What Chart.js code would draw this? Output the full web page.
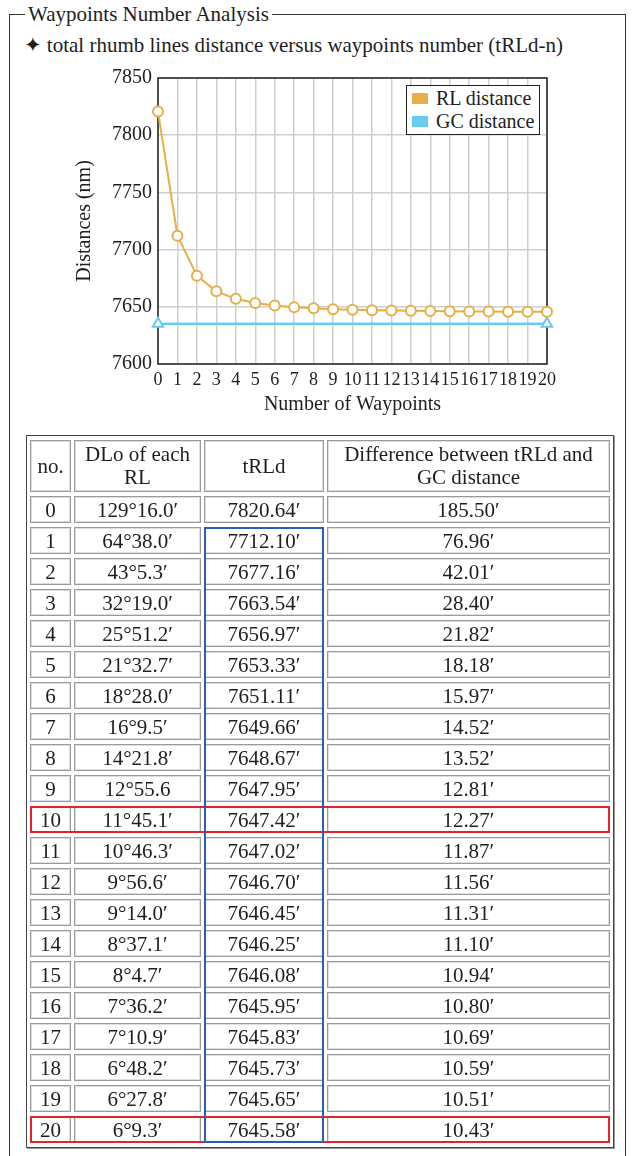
<!DOCTYPE html>
<html><head><meta charset="utf-8">
<script src="https://cdn.jsdelivr.net/npm/chart.js@4.4.0/dist/chart.umd.min.js"></script>
<style>
html,body{margin:0;padding:0;background:#fff;}
body{width:632px;height:1156px;position:relative;overflow:hidden;font-family:"Liberation Serif","Times New Roman",serif;color:#1e1e1e;}
#frame{position:absolute;left:9px;top:14px;width:617px;height:1300px;border:1px solid #333;border-bottom:none;box-sizing:border-box;}
#ftitle{position:absolute;left:25px;top:2px;padding:0 3px;background:#fff;font-size:21px;line-height:25px;white-space:nowrap;}
#subtitle{position:absolute;left:24px;top:33px;font-size:21px;line-height:25px;white-space:nowrap;}
#subtitle .star{font-family:"DejaVu Sans";font-size:21px;line-height:20px;}
#chartBox{position:absolute;left:0;top:60px;width:632px;height:380px;}
#legend{position:absolute;border:1.5px solid #222;background:#fff;padding:1px 5px 1px 5px;font-size:20px;line-height:23px;white-space:nowrap;}
#legend .sw{display:inline-block;width:16px;height:11px;margin-right:8px;vertical-align:1px;}
table{position:absolute;left:26px;top:435px;border-collapse:separate;border-spacing:3px 4px;border:1px solid #444;box-shadow:1px 1px 0 #999;table-layout:fixed;}
td,th{border:1px solid #9a9a9a;box-shadow:inset 0 0 0 1px #dedede;padding:0;text-align:center;font-weight:normal;font-size:21px;height:27px;box-sizing:border-box;line-height:22px;color:#1e1e1e;}
th{height:52px;line-height:23px;}
.ov{position:absolute;box-sizing:border-box;pointer-events:none;}
</style>
</head><body>
<div id="frame"></div>
<div id="ftitle">Waypoints Number Analysis</div>
<div id="subtitle"><span class="star">✦</span> total rhumb lines distance versus waypoints number (tRLd-n)</div>
<div id="chartBox"><canvas id="c" width="632" height="380"></canvas><div id="legend"></div></div>
<table id="tbl">
<colgroup><col style="width:41px"><col style="width:127px"><col style="width:120px"><col style="width:283px"></colgroup>
<thead><tr id="hdr"></tr></thead><tbody id="tb"></tbody></table>
<script>
// ---- data ----
const waypoints = [0,1,2,3,4,5,6,7,8,9,10,11,12,13,14,15,16,17,18,19,20];
const tRLd = [7820.64,7712.10,7677.16,7663.54,7656.97,7653.33,7651.11,7649.66,7648.67,7647.95,7647.42,7647.02,7646.70,7646.45,7646.25,7646.08,7645.95,7645.83,7645.73,7645.65,7645.58];
const dloEach = ['129°16.0′','64°38.0′','43°5.3′','32°19.0′','25°51.2′','21°32.7′','18°28.0′','16°9.5′','14°21.8′','12°55.6','11°45.1′','10°46.3′','9°56.6′','9°14.0′','8°37.1′','8°4.7′','7°36.2′','7°10.9′','6°48.2′','6°27.8′','6°9.3′'];
const diffGC = [185.50,76.96,42.01,28.40,21.82,18.18,15.97,14.52,13.52,12.81,12.27,11.87,11.56,11.31,11.10,10.94,10.80,10.69,10.59,10.51,10.43];
const gcDistance = 7635.14;
const gcEnds = [0, 20];
const yTicks = [7600,7650,7700,7750,7800,7850];
const xTicks = waypoints;
const headers = ['no.','DLo of each RL','tRLd','Difference between tRLd and GC distance'];
const highlightRows = [10, 20];
const seriesNames = ['RL distance','GC distance'];
const seriesColors = ['#E8AE48','#6ACBF2'];

// ---- table ----
const hdr = document.getElementById('hdr');
headers.forEach(h => { const th = document.createElement('th'); th.textContent = h; hdr.appendChild(th); });
const tb = document.getElementById('tb');
waypoints.forEach((n,i) => {
  const tr = document.createElement('tr');
  [String(n), dloEach[i], tRLd[i].toFixed(2)+'′', diffGC[i].toFixed(2)+'′'].forEach(t => {
    const td = document.createElement('td'); td.textContent = t; tr.appendChild(td);
  });
  tb.appendChild(tr);
});
function addOverlay(r1, r2, color){
  const d = document.createElement('div'); d.className = 'ov';
  d.style.left = r1.left+'px'; d.style.top = r1.top+'px';
  d.style.width = (r2.right-r1.left)+'px'; d.style.height = (r2.bottom-r1.top)+'px';
  d.style.border = '2px solid '+color;
  document.body.appendChild(d);
}
const rows = tb.querySelectorAll('tr');
highlightRows.forEach(r => {
  const cells = rows[r].children;
  addOverlay(cells[0].getBoundingClientRect(), cells[cells.length-1].getBoundingClientRect(), '#E8222B');
});
addOverlay(rows[1].children[2].getBoundingClientRect(), rows[20].children[2].getBoundingClientRect(), '#2C5EAE');

// ---- chart ----
const legendEl = document.getElementById('legend');
seriesNames.forEach((s,i) => {
  const d = document.createElement('div');
  d.innerHTML = '<span class="sw" style="background:'+seriesColors[i]+'"></span>'+s;
  legendEl.appendChild(d);
});
const frame = {
  id:'frame',
  beforeDatasetsDraw(chart){
    const {ctx, chartArea:a} = chart;
    ctx.save(); ctx.strokeStyle = '#222'; ctx.lineWidth = 1.5;
    ctx.strokeRect(a.left, a.top, a.right-a.left, a.bottom-a.top);
    ctx.restore();
  },
  afterRender(chart){
    const a = chart.chartArea;
    legendEl.style.left = (a.right - 7 - legendEl.offsetWidth)+'px';
    legendEl.style.top = (a.top + 7)+'px';
  }
};
const font = 'Liberation Serif';
new Chart(document.getElementById('c'), {
  type:'line',
  data:{datasets:[
    {label:seriesNames[0], data:waypoints.map((n,i)=>({x:n,y:tRLd[i]})), borderColor:seriesColors[0], borderWidth:2,
     pointRadius:5, pointBackgroundColor:'#fff', pointBorderColor:seriesColors[0], pointBorderWidth:2, tension:0, clip:false},
    {label:seriesNames[1], data:gcEnds.map(x=>({x:x,y:gcDistance})), borderColor:seriesColors[1], borderWidth:2.5,
     pointStyle:'triangle', pointRadius:6, pointBackgroundColor:'#fff', pointBorderColor:seriesColors[1], pointBorderWidth:2, clip:false}
  ]},
  options:{
    responsive:false, animation:false, devicePixelRatio:1,
    layout:{padding:{left:69,right:85,top:15,bottom:19}},
    plugins:{legend:{display:false}, tooltip:{enabled:false}},
    scales:{
      x:{type:'linear', min:0, max:20,
         afterBuildTicks:s=>{ s.ticks = xTicks.map(v=>({value:v})); },
         afterFit:s=>{ s.height = 57; },
         ticks:{autoSkip:false, maxRotation:0, minRotation:0, padding:5, color:'#1e1e1e', font:{family:font,size:18}, callback:v=>String(v)},
         grid:{color:'#cfcfcf', lineWidth:1.5, drawTicks:false},
         border:{display:false},
         title:{display:true, text:'Number of Waypoints', color:'#1e1e1e', font:{family:font,size:20}, padding:{top:4,bottom:4}}},
      y:{min:7600, max:7850,
         afterBuildTicks:s=>{ s.ticks = yTicks.map(v=>({value:v})); },
         afterFit:s=>{ s.width = 89; },
         ticks:{padding:6, color:'#1e1e1e', font:{family:font,size:20}, callback:v=>String(v)},
         grid:{color:'#cfcfcf', lineWidth:1.5, drawTicks:false},
         border:{display:false},
         title:{display:true, text:'Distances (nm)', color:'#1e1e1e', font:{family:font,size:20}, padding:{top:4,bottom:4}}}
    }
  },
  plugins:[frame]
});
</script>
</body></html>
